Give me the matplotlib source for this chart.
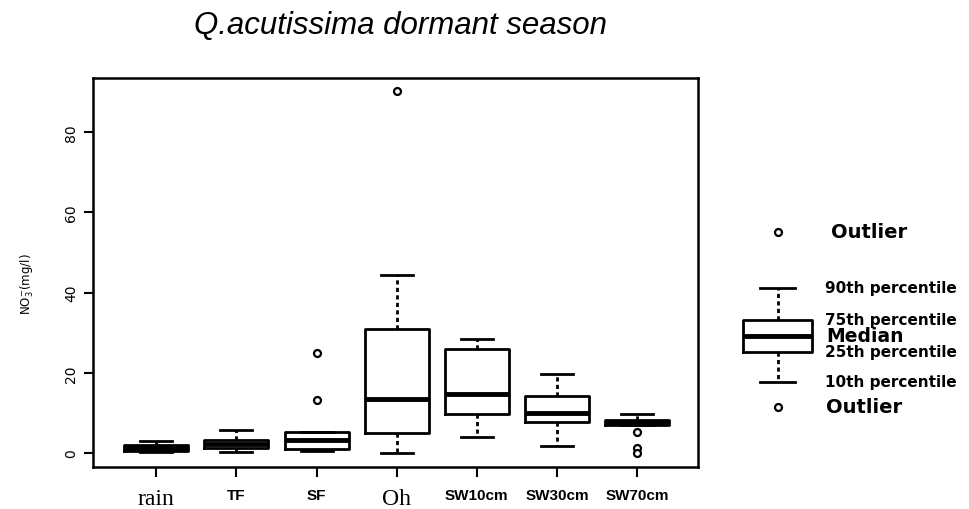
import matplotlib
matplotlib.use("Agg")
import matplotlib.pyplot as plt

# Nitrate concentrations per water type, dormant season
categories = ['rain', 'TF', 'SF', 'Oh', 'SW10cm', 'SW30cm', 'SW70cm']
whisker_low = [0.2, 0.2, 0.5, 0.0, 3.9, 1.8, 6.9]
q1 = [0.4, 1.2, 1.1, 4.9, 9.8, 7.7, 6.9]
median = [1.2, 2.2, 3.2, 13.5, 14.6, 9.9, 7.6]
q3 = [1.9, 3.2, 5.3, 30.8, 25.8, 14.1, 8.3]
whisker_high = [3.1, 5.7, 5.3, 44.5, 28.5, 19.8, 9.8]
outliers = [[], [], [13.2, 25.0], [90.2], [], [], [5.3, 1.3, 0.1]]
serif_labels = ['rain', 'Oh']
y_ticks = [0, 20, 40, 60, 80]

# Schematic key box
key_labels = ['Outlier', '90th percentile', '75th percentile', 'Median',
              '25th percentile', '10th percentile', 'Outlier']
key_low, key_q1, key_med, key_q3, key_high = 47, 77, 93, 109, 141
key_outliers = [197, 22]

W, H = 969, 510
fig = plt.figure(figsize=(W / 100, H / 100), dpi=100)

box_style = dict(color='black', linewidth=2.0)
whisker_style = dict(color='black', linewidth=2.0, linestyle=(0, (1.5, 1.2)))
cap_style = dict(color='black', linewidth=2.0)
median_style = dict(color='black', linewidth=3.5)
flier_style = dict(marker='o', markerfacecolor='white', markeredgecolor='black',
                   markersize=5, markeredgewidth=1.6, linestyle='none')

ax = fig.add_axes([93 / W, 1 - 468 / H, (698 - 93) / W, (468 - 79) / H])
stats = []
for i, name in enumerate(categories):
    stats.append(dict(label=name, whislo=whisker_low[i], q1=q1[i], med=median[i],
                      q3=q3[i], whishi=whisker_high[i], fliers=outliers[i]))
positions = list(range(1, len(categories) + 1))
ax.bxp(stats, positions=positions, widths=0.8, showfliers=True,
       boxprops=box_style, whiskerprops=whisker_style, capprops=cap_style,
       medianprops=median_style, flierprops=flier_style)

ax.set_xlim(0.21, 7.76)
ax.set_ylim(-3.5, 93.5)
ax.set_yticks(y_ticks)
ax.set_yticklabels([str(v) for v in y_ticks], rotation=90, va='center',
                   fontsize=10, family='DejaVu Sans')
ax.tick_params(axis='y', length=6.5, width=1.5, pad=4)
ax.tick_params(axis='x', length=7, width=1.5, pad=8)
for spine in ax.spines.values():
    spine.set_linewidth(1.8)

ax.set_xticks(positions)
ax.set_xticklabels(categories)
for lbl in ax.get_xticklabels():
    if lbl.get_text() in serif_labels:
        lbl.set_family('Liberation Serif')
        lbl.set_fontsize(17)
    else:
        lbl.set_family('Liberation Sans')
        lbl.set_fontsize(11)
        lbl.set_fontweight('bold')

fig.text(27 / W, 1 - 284 / H, r'NO$_3^{-}$(mg/l)', rotation=90, ha='center',
         va='center', fontsize=8.5, family='DejaVu Sans')

fig.text(400 / W, 1 - 26 / H, 'Q.acutissima dormant season', ha='center',
         va='center', fontsize=22.5, style='italic', family='Liberation Sans')

# Key panel on the right
kx0, ky_top, ky_bot = 700, 200, 430
key_ax = fig.add_axes([kx0 / W, 1 - ky_bot / H, (W - kx0) / W, (ky_bot - ky_top) / H])
px_per_unit = 86.25
key_ax.set_xlim(1 - 77.5 / px_per_unit, 1 - 77.5 / px_per_unit + (W - kx0) / px_per_unit)
key_ax.set_ylim(0, ky_bot - ky_top)
key_ax.axis('off')
key_ax.bxp([dict(whislo=key_low, q1=key_q1, med=key_med, q3=key_q3,
                 whishi=key_high, fliers=key_outliers)],
           positions=[1], widths=0.8, showfliers=True,
           boxprops=box_style, whiskerprops=whisker_style, capprops=cap_style,
           medianprops=median_style, flierprops=flier_style)

key_y = [key_outliers[0], key_high, key_q3, key_med, key_q1, key_low, key_outliers[1]]
for text, yv in zip(key_labels, key_y):
    if text == 'Outlier':
        x = 1.62 if yv == key_outliers[0] else 1.56
        key_ax.text(x, yv, text, fontsize=14, fontweight='bold',
                    family='DejaVu Sans', va='center', ha='left')
    elif text == 'Median':
        key_ax.text(1.57, yv, text, fontsize=13.5, fontweight='bold',
                    family='DejaVu Sans', va='center', ha='left')
    else:
        key_ax.text(1.55, yv, text, fontsize=11, fontweight='bold',
                    family='DejaVu Sans', va='center', ha='left')

fig.savefig('out.png', dpi=100)
